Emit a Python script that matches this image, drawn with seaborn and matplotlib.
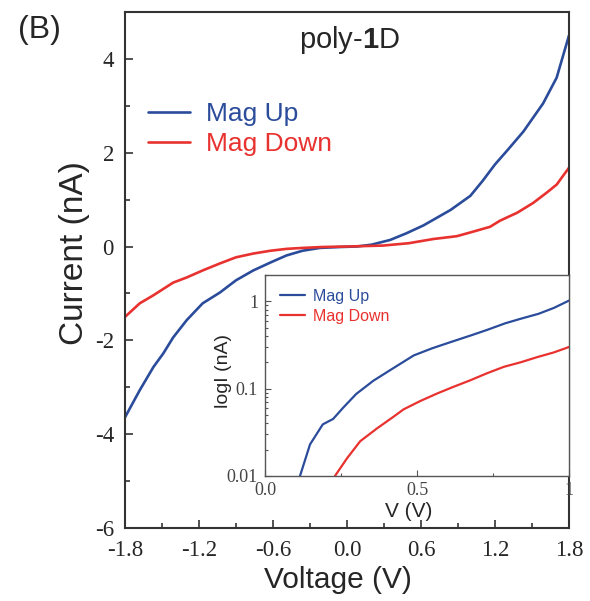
import numpy as np
import pandas as pd
import matplotlib
matplotlib.use("Agg")
import matplotlib.pyplot as plt
import seaborn as sns
from matplotlib.ticker import MultipleLocator, LogLocator, NullFormatter

# I-V data
v_up = [-1.8, -1.68, -1.57, -1.49, -1.41, -1.30, -1.17, -1.03, -0.90, -0.76, -0.62, -0.49,
        -0.36, -0.22, -0.05, 0.08, 0.20, 0.35, 0.48, 0.62, 0.72, 0.84, 1.00, 1.10, 1.20,
        1.30, 1.43, 1.59, 1.70, 1.80]
i_up = [-3.64, -3.06, -2.57, -2.28, -1.94, -1.57, -1.21, -0.98, -0.72, -0.51, -0.34, -0.19,
        -0.09, -0.03, -0.01, 0.0, 0.04, 0.14, 0.28, 0.45, 0.60, 0.78, 1.08, 1.40, 1.75,
        2.05, 2.45, 3.05, 3.60, 4.50]
v_down = [-1.8, -1.68, -1.57, -1.41, -1.30, -1.17, -1.03, -0.90, -0.76, -0.62, -0.49, -0.36,
          -0.20, 0.0, 0.29, 0.50, 0.70, 0.89, 1.00, 1.16, 1.24, 1.38, 1.51, 1.62, 1.70, 1.80]
i_down = [-1.50, -1.21, -1.04, -0.77, -0.66, -0.51, -0.36, -0.23, -0.15, -0.09, -0.05, -0.03,
          -0.01, 0.0, 0.02, 0.07, 0.16, 0.22, 0.30, 0.42, 0.55, 0.72, 0.93, 1.15, 1.32, 1.68]

# inset: log current vs V (positive bias)
vin_up = [0.115, 0.148, 0.19, 0.224, 0.256, 0.30, 0.356, 0.42, 0.489, 0.55, 0.62, 0.68,
          0.73, 0.79, 0.84, 0.90, 0.95, 1.0]
iin_up = [0.010, 0.023, 0.039, 0.045, 0.060, 0.087, 0.123, 0.17, 0.24, 0.29, 0.35, 0.41,
          0.47, 0.56, 0.63, 0.72, 0.84, 1.02]
vin_down = [0.23, 0.27, 0.313, 0.368, 0.42, 0.456, 0.51, 0.566, 0.62, 0.676, 0.73, 0.786,
            0.84, 0.896, 0.95, 1.0]
iin_down = [0.010, 0.016, 0.025, 0.035, 0.047, 0.058, 0.072, 0.088, 0.105, 0.125, 0.15,
            0.178, 0.20, 0.23, 0.26, 0.30]

labels = ["Mag Up", "Mag Down"]
colors = ["#2b4c9b", "#e8322f"]

df = pd.concat([pd.DataFrame({"V": v_up, "I": i_up, "Field": labels[0]}),
                pd.DataFrame({"V": v_down, "I": i_down, "Field": labels[1]})])
df_in = pd.concat([pd.DataFrame({"V": vin_up, "I": iin_up, "Field": labels[0]}),
                   pd.DataFrame({"V": vin_down, "I": iin_down, "Field": labels[1]})])

sns.set_style("ticks")
plt.rcParams["font.family"] = ["Liberation Sans", "DejaVu Sans"]
plt.rcParams["mathtext.fontset"] = "custom"
plt.rcParams["mathtext.rm"] = "Liberation Sans"
plt.rcParams["mathtext.bf"] = "Liberation Sans:bold"
serif = "Liberation Serif"

fig = plt.figure(figsize=(5.9, 6.01), dpi=100)
ax = fig.add_axes([0.2119, 0.1215, 0.7525, 0.8586])

sns.lineplot(data=df, x="V", y="I", hue="Field", palette=colors, sort=False,
             linewidth=1.9, ax=ax, estimator=None)
ax.set_xlim(-1.8, 1.8)
ax.set_ylim(-6, 5)
ax.set_xticks([-1.8, -1.2, -0.6, 0.0, 0.6, 1.2, 1.8])
ax.set_xticklabels(["-1.8", "-1.2", "-0.6", "0.0", "0.6", "1.2", "1.8"])
ax.set_yticks([-6, -4, -2, 0, 2, 4])
ax.set_yticklabels(["-6", "-4", "-2", "0", "2", "4"])
ax.xaxis.set_minor_locator(MultipleLocator(0.3))
ax.yaxis.set_minor_locator(MultipleLocator(1))
ax.tick_params(which="both", direction="in", width=1.2, color="#333333")
ax.tick_params(which="major", length=6)
ax.tick_params(which="minor", length=3.5)
ax.tick_params(axis="x", pad=9, labelsize=16.5)
ax.tick_params(axis="y", pad=8, labelsize=16.5)
for lab in ax.get_xticklabels() + ax.get_yticklabels():
    lab.set_fontfamily(serif)
for s in ax.spines.values():
    s.set_visible(True)
    s.set_linewidth(1.5)
    s.set_color("#333333")

ax.set_xlabel("Voltage (V)", fontsize=21.5)
ax.set_ylabel("Current (nA)", fontsize=24)
ax.xaxis.set_label_coords(0.48, -0.073)
ax.yaxis.set_label_coords(-0.078, 0.533)

leg = ax.legend(loc="upper left", bbox_to_anchor=(0.052, 0.826), frameon=False,
                fontsize=19, handlelength=1.6, handletextpad=0.6, labelspacing=0.25,
                borderpad=0, borderaxespad=0)
for t, c in zip(leg.get_texts(), colors):
    t.set_color(c)

ax.text(0.505, 0.93, r"poly-$\mathbf{1}$D", transform=ax.transAxes, ha="center",
        va="baseline", fontsize=21)
fig.text(0.03, 0.95, "(B)", ha="left", va="center", fontsize=23)

# inset
axin = fig.add_axes([0.4492, 0.208, 0.5153, 0.3344])
sns.lineplot(data=df_in, x="V", y="I", hue="Field", palette=colors, sort=False,
             linewidth=1.6, ax=axin, estimator=None)
axin.set_yscale("log")
axin.set_xlim(0, 1)
axin.set_ylim(0.01, 2.0)
axin.set_xticks([0, 0.5, 1])
axin.set_xticklabels(["0.0", "0.5", "1"])
axin.set_yticks([0.01, 0.1, 1])
axin.set_yticklabels(["0.01", "0.1", "1"])
axin.xaxis.set_minor_locator(MultipleLocator(0.25))
axin.yaxis.set_minor_locator(LogLocator(base=10, subs=np.arange(2, 10)))
axin.yaxis.set_minor_formatter(NullFormatter())
axin.tick_params(which="both", direction="in", width=0.8, color="#555555")
axin.tick_params(which="major", length=4)
axin.tick_params(which="minor", length=2)
axin.tick_params(axis="x", pad=4, labelsize=13)
axin.tick_params(axis="y", pad=5, labelsize=13)
for lab in axin.get_xticklabels() + axin.get_yticklabels():
    lab.set_fontfamily(serif)
    lab.set_color("#444444")
for s in axin.spines.values():
    s.set_visible(True)
    s.set_linewidth(1.0)
    s.set_color("#555555")
axin.set_xlabel("V (V)", fontsize=15)
axin.set_ylabel("logI (nA)", fontsize=14)
axin.xaxis.set_label_coords(0.474, -0.13)
axin.yaxis.set_label_coords(-0.11, 0.52)

leg2 = axin.legend(loc="upper left", bbox_to_anchor=(0.049, 0.93), frameon=False,
                   fontsize=11.5, handlelength=1.6, handletextpad=0.5, labelspacing=0.3,
                   borderpad=0, borderaxespad=0)
for t, c in zip(leg2.get_texts(), colors):
    t.set_color(c)

fig.savefig("out.png", dpi=100)
